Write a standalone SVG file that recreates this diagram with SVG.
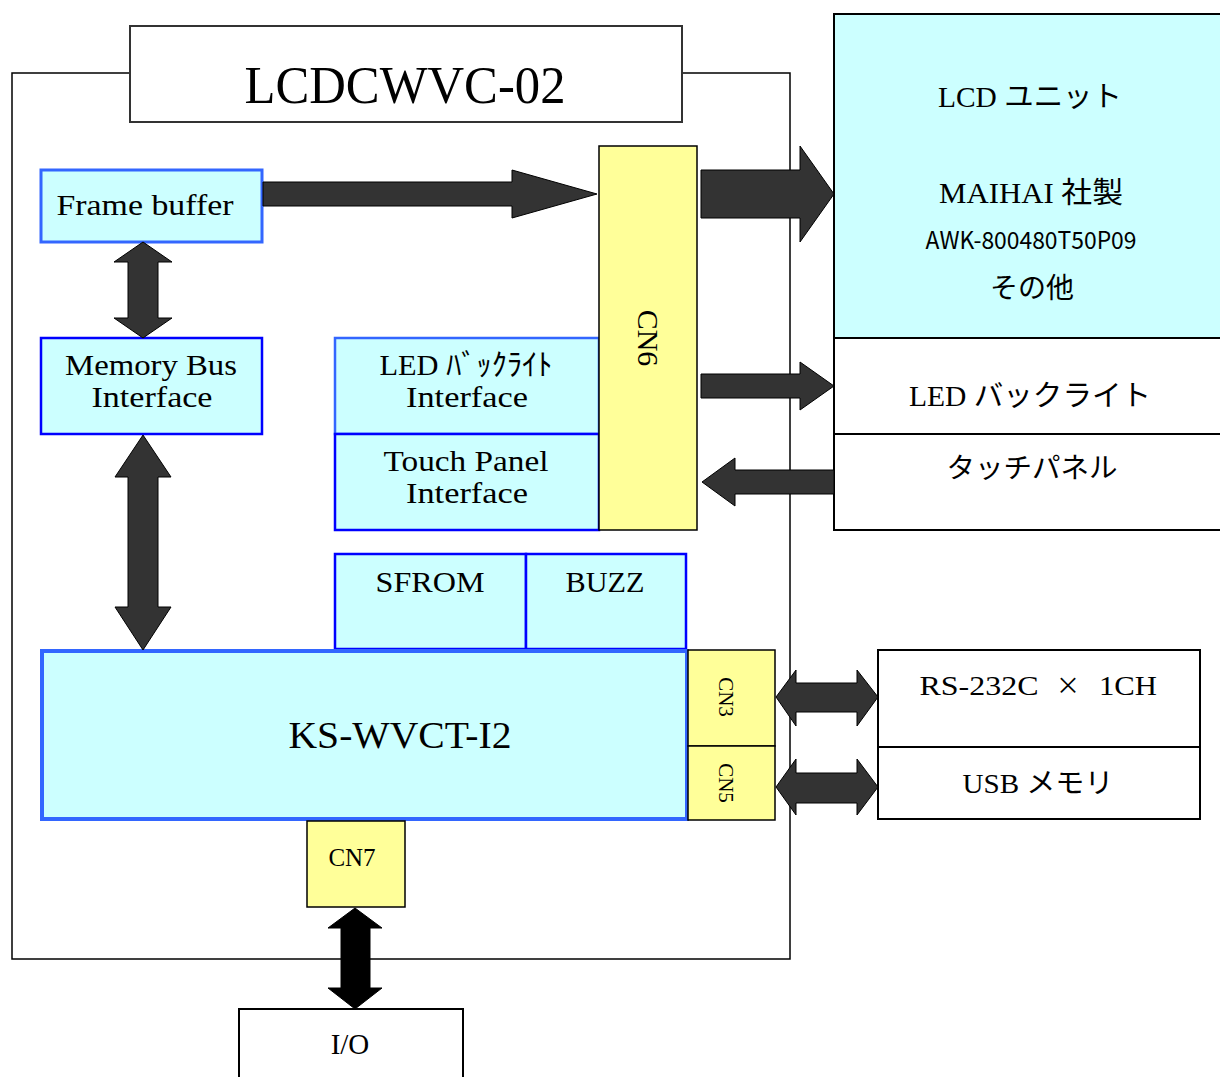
<svg xmlns="http://www.w3.org/2000/svg" width="1220" height="1077" viewBox="0 0 1220 1077">
<style>
.t{font-family:"Liberation Serif","Noto Sans CJK JP",serif;fill:#000;text-anchor:middle}
.j{font-family:"Liberation Serif","Noto Sans CJK JP",sans-serif;fill:#000;text-anchor:middle}
.g{font-family:"Noto Sans CJK JP",sans-serif;fill:#000;text-anchor:middle}
.cy{fill:#ccffff}
.yl{fill:#ffff99;stroke:#000;stroke-width:1.5}
.wb{fill:#fff;stroke:#000;stroke-width:2}
.b1{stroke:#3366ff;stroke-width:3}
.b2{stroke:#0000ff;stroke-width:2.5}
.ar{fill:#333333;stroke:#000;stroke-width:1}
.ak{fill:#000;stroke:#000;stroke-width:1}
</style>
<rect x="12" y="73" width="778" height="886" fill="none" stroke="#000" stroke-width="1.5"/>
<g id="title">
<rect x="130" y="26" width="552" height="96" fill="#fff" stroke="#333" stroke-width="2"/>
<text class="t" x="405" y="103" font-size="52" textLength="321" lengthAdjust="spacingAndGlyphs">LCDCWVC-02</text>
</g>
<g id="framebuffer">
<rect x="41" y="170" width="221" height="72" class="cy b1"/>
<text class="t" x="145" y="215" font-size="30" textLength="177" lengthAdjust="spacingAndGlyphs">Frame buffer</text>
</g>
<g id="membus">
<rect x="41" y="338" width="221" height="96" class="cy b2"/>
<text class="t" x="151" y="375" font-size="30" textLength="172" lengthAdjust="spacingAndGlyphs">Memory Bus</text>
<text class="t" x="152" y="407" font-size="30" textLength="121" lengthAdjust="spacingAndGlyphs">Interface</text>
</g>
<g id="ledif">
<rect x="335" y="338" width="264" height="96" class="cy" stroke="#3366ff" stroke-width="2.5"/>
<text class="j" x="466" y="375" font-size="30" textLength="173" lengthAdjust="spacingAndGlyphs">LED ﾊﾞｯｸﾗｲﾄ</text>
<text class="t" x="467" y="407" font-size="30" textLength="122" lengthAdjust="spacingAndGlyphs">Interface</text>
</g>
<g id="touchif">
<rect x="335" y="434" width="264" height="96" class="cy b2"/>
<text class="t" x="466" y="471" font-size="30" textLength="165" lengthAdjust="spacingAndGlyphs">Touch Panel</text>
<text class="t" x="467" y="503" font-size="30" textLength="122" lengthAdjust="spacingAndGlyphs">Interface</text>
</g>
<g id="cn6">
<rect x="599" y="146" width="98" height="384" class="yl"/>
<text class="t" x="0" y="0" font-size="30" transform="translate(638,338) rotate(90)">CN6</text>
</g>
<g id="sfrom">
<rect x="335" y="554" width="191" height="95" class="cy b2"/>
<text class="t" x="430" y="592" font-size="30" textLength="109" lengthAdjust="spacingAndGlyphs">SFROM</text>
</g>
<g id="buzz">
<rect x="526" y="554" width="160" height="95" class="cy b2"/>
<text class="t" x="605" y="592" font-size="30" textLength="79" lengthAdjust="spacingAndGlyphs">BUZZ</text>
</g>
<g id="kswvct">
<rect x="42" y="651" width="645" height="168" class="cy" stroke="#3366ff" stroke-width="4"/>
<text class="t" x="400" y="748" font-size="38" textLength="223" lengthAdjust="spacingAndGlyphs">KS-WVCT-I2</text>
</g>
<g id="cn3">
<rect x="688" y="650" width="87" height="96" class="yl"/>
<text class="t" x="0" y="0" font-size="21" transform="translate(719,697) rotate(90)">CN3</text>
</g>
<g id="cn5">
<rect x="688" y="746" width="87" height="74" class="yl"/>
<text class="t" x="0" y="0" font-size="21" transform="translate(719,783) rotate(90)">CN5</text>
</g>
<g id="cn7">
<rect x="307" y="821" width="98" height="86" class="yl"/>
<text class="t" x="352" y="866" font-size="25">CN7</text>
</g>
<g id="io">
<rect x="239" y="1009" width="224" height="75" class="wb" stroke-width="1.5"/>
<text class="t" x="350" y="1054" font-size="29">I/O</text>
</g>
<g id="lcdunit">
<rect x="834" y="14" width="390" height="324" fill="#ccffff" stroke="#000" stroke-width="2"/>
<text class="j" x="1030" y="107" font-size="29" textLength="184" lengthAdjust="spacingAndGlyphs">LCD ユニット</text>
<text class="j" x="1031" y="203" font-size="29" textLength="184" lengthAdjust="spacingAndGlyphs">MAIHAI 社製</text>
<text class="g" x="1031" y="249" font-size="24" textLength="211" lengthAdjust="spacingAndGlyphs">AWK-800480T50P09</text>
<text class="g" x="1032" y="298" font-size="28">その他</text>
</g>
<g id="ledbl">
<rect x="834" y="338" width="390" height="96" class="wb"/>
<text class="j" x="1030" y="406" font-size="29" textLength="242" lengthAdjust="spacingAndGlyphs">LED バックライト</text>
</g>
<g id="touch">
<rect x="834" y="434" width="390" height="96" class="wb"/>
<text class="g" x="1032" y="478" font-size="28" textLength="171" lengthAdjust="spacingAndGlyphs">タッチパネル</text>
</g>
<g id="rs232">
<rect x="878" y="650" width="322" height="97" class="wb" stroke-width="1.5"/>
<text class="t" x="979" y="695" font-size="28" textLength="119" lengthAdjust="spacingAndGlyphs">RS-232C</text>
<text class="g" x="1068" y="694" font-size="24">×</text>
<text class="t" x="1128" y="695" font-size="28" textLength="58" lengthAdjust="spacingAndGlyphs">1CH</text>
</g>
<g id="usb">
<rect x="878" y="747" width="322" height="72" class="wb" stroke-width="1.5"/>
<text class="j" x="1038" y="793" font-size="28" textLength="151" lengthAdjust="spacingAndGlyphs">USB メモリ</text>
</g>
<g id="connectors">
<polygon class="ar" points="263,182 512,182 512,170 597,194 512,218 512,206 263,206"/>
<polygon class="ar" points="701,170 800,170 800,146 834,194 800,242 800,218 701,218"/>
<polygon class="ar" points="701,374 800,374 800,362 834,386 800,410 800,398 701,398"/>
<polygon class="ar" points="834,470 735,470 735,458 702,482 735,506 735,494 834,494"/>
<polygon class="ar" points="143,242 172,262 158,262 158,318 172,318 143,338 114,318 128,318 128,262 114,262"/>
<polygon class="ar" points="143,435 171,477 158,477 158,607 171,607 143,650 115,607 128,607 128,477 115,477"/>
<polygon class="ar" points="776,697 796,670 796,683 857,683 857,670 878,697 857,726 857,712 796,712 796,726"/>
<polygon class="ar" points="776,787 796,759 796,773 857,773 857,759 878,787 857,815 857,803 796,803 796,815"/>
<polygon class="ak" points="355,908 382,928 370,928 370,988 382,988 355,1009 328,988 341,988 341,928 328,928"/>
</g>
</svg>
